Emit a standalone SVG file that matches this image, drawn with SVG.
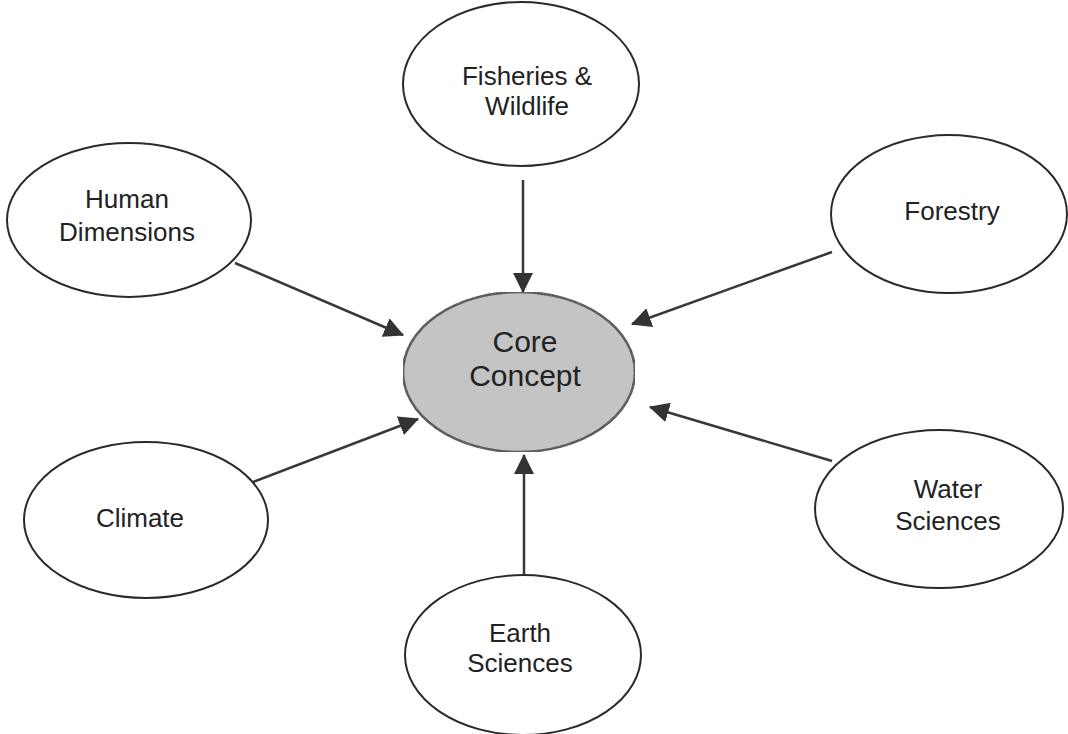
<svg xmlns="http://www.w3.org/2000/svg" width="1068" height="734" viewBox="0 0 1068 734">
  <style>
    .node { fill: #ffffff; stroke: #2a2a2a; stroke-width: 2; }
    .core { fill: #c4c4c4; stroke: #2a2a2a; stroke-width: 2.5; }
    .lbl { font-family: "Liberation Sans", Arial, sans-serif; font-size: 26px; fill: #222; text-anchor: middle; }
    .corelbl { font-size: 30px; }
    .conn { stroke: #383838; stroke-width: 2.5; fill: none; marker-end: url(#arrow); }
  </style>
  <defs>
    <marker id="arrow" markerUnits="userSpaceOnUse" markerWidth="20" markerHeight="20" viewBox="0 0 18 18" refX="17" refY="9" orient="auto">
      <path d="M0,0 L18,9 L0,18 z" fill="#333"/>
    </marker>
    <filter id="grain" x="0" y="0" width="100%" height="100%">
      <feTurbulence type="fractalNoise" baseFrequency="0.9" numOctaves="2" seed="3" result="n"/>
      <feColorMatrix in="n" type="matrix" values="0 0 0 0 0.55  0 0 0 0 0.55  0 0 0 0 0.55  0 0 0 0.35 0" result="g"/>
      <feComposite in="g" in2="SourceGraphic" operator="in" result="gi"/>
      <feMerge><feMergeNode in="SourceGraphic"/><feMergeNode in="gi"/></feMerge>
    </filter>
  </defs>
  <rect width="1068" height="734" fill="#ffffff"/>

  <g id="connectors">
    <line class="conn" x1="523" y1="180" x2="523" y2="292"/>
    <line class="conn" x1="235" y1="263" x2="403" y2="335"/>
    <line class="conn" x1="832" y1="252" x2="632" y2="324"/>
    <line class="conn" x1="253" y1="482" x2="418" y2="419"/>
    <line class="conn" x1="832" y1="461" x2="650" y2="407"/>
    <line class="conn" x1="524" y1="577" x2="524" y2="455"/>
  </g>

  <g id="fisheries">
    <ellipse class="node" cx="521" cy="84" rx="118" ry="82"/>
    <text class="lbl" x="527" y="85">Fisheries &amp;</text>
    <text class="lbl" x="527" y="115">Wildlife</text>
  </g>
  <g id="human">
    <ellipse class="node" cx="129" cy="220" rx="122" ry="77"/>
    <text class="lbl" x="127" y="208">Human</text>
    <text class="lbl" x="127" y="241">Dimensions</text>
  </g>
  <g id="forestry">
    <ellipse class="node" cx="949" cy="214" rx="118" ry="79"/>
    <text class="lbl" x="952" y="220">Forestry</text>
  </g>
  <g id="core">
    <ellipse class="core" cx="519" cy="372" rx="116" ry="80" filter="url(#grain)"/>
    <text class="lbl corelbl" x="525" y="352">Core</text>
    <text class="lbl corelbl" x="525" y="386">Concept</text>
  </g>
  <g id="climate">
    <ellipse class="node" cx="146" cy="520" rx="122" ry="78"/>
    <text class="lbl" x="140" y="527">Climate</text>
  </g>
  <g id="water">
    <ellipse class="node" cx="939" cy="509" rx="124" ry="79"/>
    <text class="lbl" x="948" y="498">Water</text>
    <text class="lbl" x="948" y="530">Sciences</text>
  </g>
  <g id="earth">
    <ellipse class="node" cx="523" cy="655" rx="118" ry="80"/>
    <text class="lbl" x="520" y="642">Earth</text>
    <text class="lbl" x="520" y="672">Sciences</text>
  </g>
</svg>
